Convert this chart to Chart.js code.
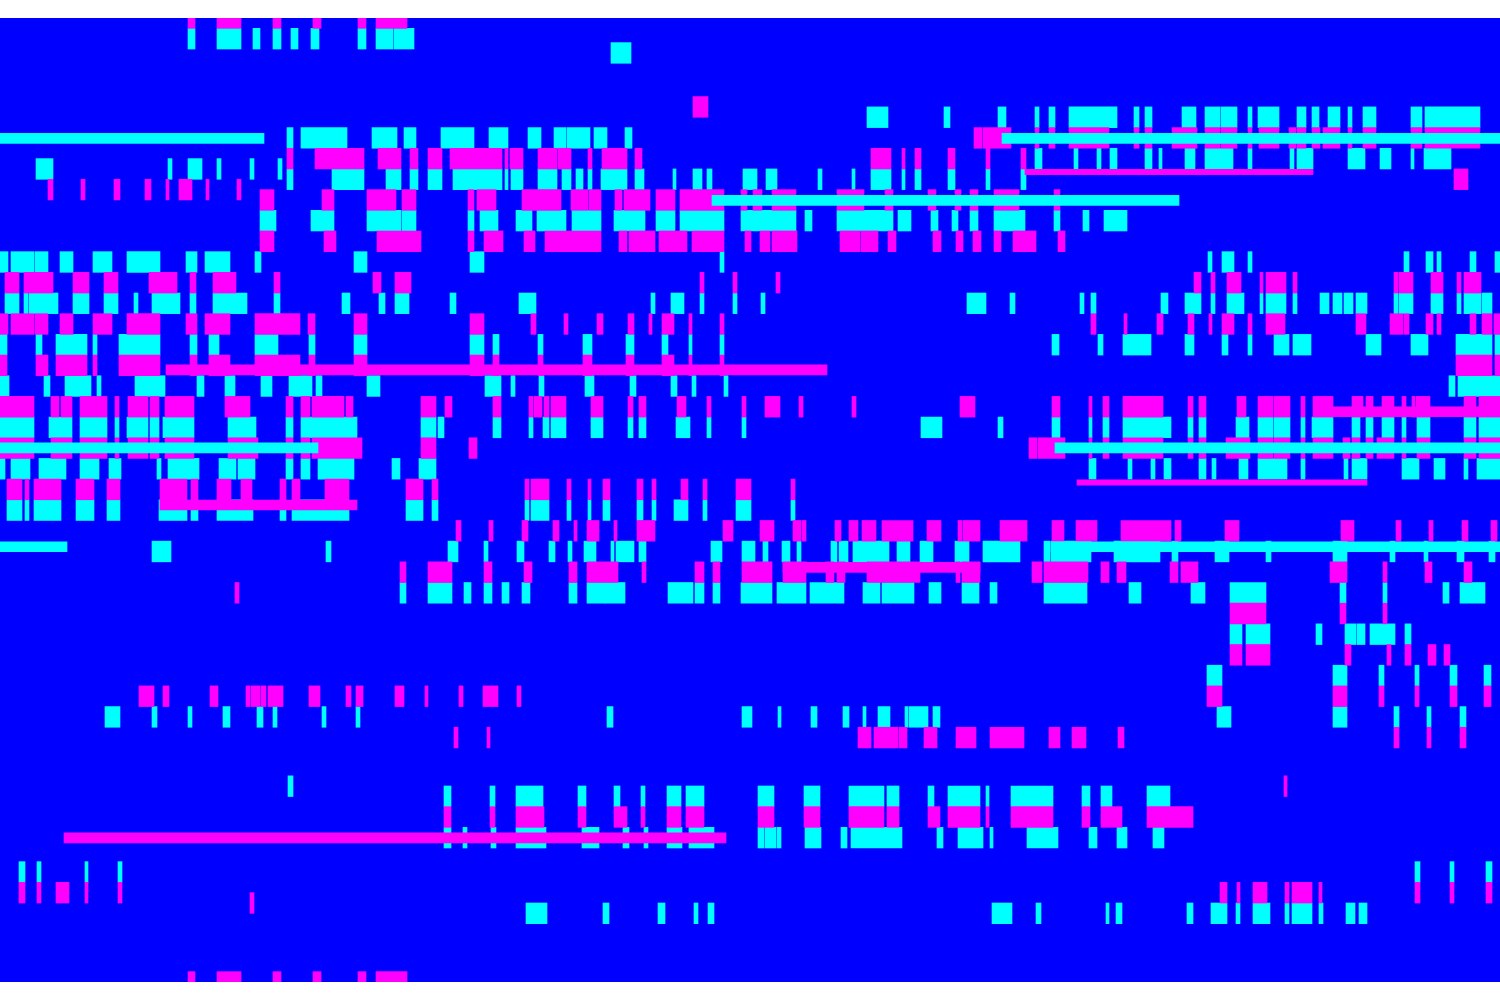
<!DOCTYPE html>
<html><head><meta charset="utf-8">
<style>html,body{margin:0;padding:0;background:#fff}canvas{display:block}</style>
<script src="https://cdn.jsdelivr.net/npm/chart.js@4/dist/chart.umd.min.js"></script>
</head><body><canvas id="c" width="1500" height="1000"></canvas>
<script>
// each list: row position, then start,end pairs along the x axis
const cyanCells = [
[1,188,195,217,241,253,260,273,281,291,298,311,319,358,366,376,393,394,414],
[1.69,611,631],
[4.8,867,888,944,950,998,1006,1035,1039,1049,1055,1069,1117,1134,1139,1145,1152,1182,1196,1205,1220,1221,1237,1248,1252,1258,1279,1297,1306,1312,1319,1328,1340,1348,1352,1363,1376,1411,1422,1425,1480],
[5.8,287,293,301,347,372,397,404,416,441,474,489,508,528,541,554,566,567,590,594,607,625,632],
[6.8,1035,1042,1074,1078,1097,1101,1110,1117,1145,1152,1159,1162,1185,1195,1205,1233,1248,1252,1290,1294,1297,1313,1348,1365,1380,1391,1411,1414,1424,1451],
[7.3,36,53,168,172,188,202,217,221,250,254,278,282],
[7.8,287,293,332,364,386,401,410,418,428,442,453,502,505,508,511,523,538,557,562,571,576,583,588,592,601,627,635,644,673,676,693,702,707,712,743,757,766,777,818,822,852,855,871,891,902,905,915,921,948,955,986,990,1021,1026],
[9.8,260,276,311,334,367,401,402,416,468,474,480,498,516,532,537,566,572,601,614,645,656,675,680,724,741,796,805,812,837,893,898,911,931,938,952,958,970,978,994,1025,1054,1060,1083,1089,1104,1127],
[11.8,0,8,11,34,35,48,60,73,93,112,127,160,186,197,205,230,255,261,354,367,470,484,720,724,1208,1212,1222,1234,1248,1252,1404,1409,1426,1433,1437,1441,1470,1476,1495,1500],
[13.8,5,19,24,28,29,58,73,89,104,118,134,138,152,180,190,196,213,247,274,280,342,350,379,385,395,409,450,456,519,536,651,655,671,684,700,704,733,737,761,765,967,986,1010,1015,1080,1084,1091,1096,1161,1168,1185,1201,1211,1215,1227,1244,1260,1263,1266,1286,1293,1297,1320,1329,1333,1342,1344,1353,1356,1367,1394,1398,1399,1413,1431,1439,1439,1443,1457,1461,1464,1481,1482,1492],
[15.8,0,7,36,42,56,87,93,97,119,160,190,197,209,219,255,278,309,315,354,367,470,484,493,499,538,543,583,592,626,634,662,668,689,692,720,724,1052,1059,1098,1103,1123,1151,1185,1194,1222,1228,1248,1252,1274,1289,1293,1311,1366,1381,1411,1428,1456,1492,1495,1500],
[17.8,0,9,44,50,65,91,97,101,135,165,197,204,225,235,261,272,289,312,316,322,367,380,485,501,511,515,539,544,585,594,630,636,671,677,692,696,724,728,1449,1455,1458,1500],
[19.8,0,34,49,72,80,107,115,119,127,148,150,159,163,194,228,256,286,293,301,357,421,436,438,444,493,501,529,533,543,549,551,566,591,603,628,633,639,646,676,690,707,711,742,746,921,942,998,1003,1052,1060,1089,1092,1103,1109,1123,1171,1188,1193,1199,1206,1236,1249,1258,1273,1274,1290,1301,1305,1312,1333,1352,1360,1366,1373,1382,1394,1402,1406,1417,1430,1464,1476,1479,1500],
[21.8,0,5,11,30,39,66,80,99,109,121,157,161,168,199,219,236,238,255,286,293,301,310,318,354,392,400,419,436,1089,1096,1128,1132,1151,1155,1164,1171,1199,1206,1212,1216,1239,1248,1258,1287,1301,1305,1344,1348,1352,1367,1402,1419,1434,1445,1464,1468,1477,1500],
[23.8,7,22,25,29,34,61,76,94,107,120,159,187,191,198,217,253,280,286,292,349,406,423,432,438,525,529,531,549,567,571,588,591,603,610,637,643,652,656,674,688,703,707,736,751,791,795],
[25.8,152,171,326,331,448,458,484,488,517,524,549,555,568,572,584,596,611,614,616,634,639,646,711,722,742,755,763,768,782,790,797,801,831,837,839,848,853,889,897,910,920,933,955,969,983,1020,1044,1050,1051,1091,1114,1160,1172,1178,1215,1229,1266,1271,1333,1347,1390,1395,1424,1428,1457,1464,1489,1495],
[27.8,400,406,428,452,464,471,484,492,502,509,522,530,569,577,587,605,605,625,668,693,695,704,713,720,741,772,777,806,810,844,863,880,882,914,929,941,962,979,990,997,1044,1087,1129,1141,1191,1205,1230,1266,1340,1346,1383,1387,1443,1449,1460,1485],
[29.8,1230,1242,1246,1270,1316,1322,1345,1356,1357,1365,1370,1395,1405,1411],
[31.8,1207,1222,1333,1347,1379,1384,1415,1419,1450,1457,1484,1491],
[33.8,105,120,152,157,188,192,223,230,257,263,273,277,322,326,356,360,607,613,742,752,778,781,811,817,843,849,863,866,878,890,905,908,909,928,933,940,1217,1231,1333,1347,1394,1399,1427,1431,1460,1466],
[37.15,288,293],
[37.64,444,451,490,495,516,543,578,586,614,620,641,645,667,681,686,704,758,774,804,820,849,884,887,899,928,934,948,980,986,989,1011,1053,1082,1090,1101,1112,1147,1170],
[39.64,444,451,463,467,491,496,516,546,582,599,623,629,644,648,667,682,689,714,758,764,765,776,777,781,805,821,841,847,851,902,937,943,958,983,990,993,1027,1058,1089,1097,1117,1127,1153,1164],
[41.3,19,25,37,41,85,88,118,122,1415,1420,1450,1454,1486,1492],
[43.3,526,547,603,609,658,665,694,698,708,714,992,1012,1036,1041,1106,1109,1116,1122,1187,1193,1211,1227,1236,1240,1253,1270,1285,1289,1292,1312,1319,1323,1346,1355,1359,1367]
];
const magentaCells = [
[0,188,195,217,241,273,281,313,321,358,366,376,407],
[4.3,693,708],
[5.8,974,982,983,1011,1035,1039,1049,1055,1069,1109,1134,1139,1145,1152,1172,1197,1205,1220,1221,1237,1248,1252,1259,1279,1289,1296,1297,1306,1312,1320,1323,1340,1348,1352,1363,1376,1411,1422,1425,1480],
[6.8,287,293,315,364,378,401,410,418,428,442,450,502,505,508,510,523,538,557,558,571,588,592,602,627,635,642,871,891,902,905,915,921,948,955,986,990,1021,1026],
[7.8,1454,1468],
[8.3,48,53,81,85,114,120,145,151,166,169,179,192,206,209,237,241],
[8.8,260,274,322,334,367,396,402,416,468,474,477,496,522,561,571,588,589,601,615,622,624,650,656,675,680,724,741,747,753,762,772,796,837,864,885,893,928,936,955,961,970,978,994,1019,1054,1060],
[10.8,260,274,324,336,377,421,468,474,484,503,524,535,545,601,619,627,629,655,659,687,692,724,745,751,760,770,772,797,840,860,861,878,888,896,933,941,956,963,973,981,994,1001,1013,1036,1058,1065],
[12.8,5,19,24,29,29,53,73,89,104,118,149,177,190,196,213,236,274,280,373,381,395,411,700,704,733,737,776,780,1194,1201,1211,1215,1227,1241,1260,1263,1266,1286,1293,1297,1394,1398,1399,1413,1431,1439,1439,1443,1457,1461,1464,1481],
[14.8,0,8,11,34,35,48,60,73,93,112,127,160,186,197,205,230,255,300,308,315,354,367,470,484,531,536,564,568,597,603,628,634,649,652,662,674,689,692,720,724,1091,1096,1124,1127,1157,1163,1188,1194,1209,1212,1222,1234,1248,1252,1266,1285,1356,1366,1390,1403,1404,1409,1426,1433,1437,1441,1470,1476,1482,1492,1494,1500],
[16.8,0,7,36,48,56,87,93,97,119,160,190,197,209,230,255,300,309,315,354,367,470,484,493,499,538,543,583,592,626,634,662,674,689,692,720,724,1456,1492,1495,1500],
[18.8,0,34,51,59,61,72,80,107,115,119,128,148,150,159,165,194,225,250,286,293,301,310,312,344,346,353,421,436,445,452,493,501,529,533,534,542,544,549,551,566,591,603,628,633,639,646,677,686,707,711,742,746,765,780,799,803,852,856,960,975,1052,1060,1089,1092,1103,1109,1123,1163,1188,1193,1199,1206,1237,1246,1258,1273,1274,1290,1301,1305,1313,1333,1352,1363,1366,1373,1382,1394,1402,1406,1412,1415,1416,1430,1464,1476,1479,1500],
[20.8,0,34,51,72,80,107,115,119,128,148,150,159,165,194,228,258,286,293,301,310,312,362,421,436,469,477,1029,1037,1038,1065,1089,1092,1103,1109,1123,1163,1188,1193,1199,1206,1226,1250,1258,1273,1274,1290,1301,1305,1313,1333,1343,1350,1352,1360,1366,1373,1377,1394,1402,1406,1417,1430,1464,1476,1479,1500],
[22.8,7,22,25,29,34,61,76,94,107,120,160,187,191,198,217,231,241,252,280,286,292,300,325,349,406,423,432,438,525,529,531,549,567,571,588,591,603,610,637,643,652,656,681,688,703,707,736,751,791,795],
[24.8,456,461,489,493,522,528,553,559,574,577,587,599,614,617,637,655,723,733,760,774,793,801,802,806,835,841,849,858,862,876,882,913,927,941,958,962,963,980,1000,1027,1052,1064,1076,1097,1121,1171,1175,1181,1225,1239,1341,1354,1396,1401,1429,1433,1462,1468,1491,1497],
[26.8,400,406,428,452,484,492,524,532,569,577,587,618,642,646,695,704,713,720,742,772,783,806,826,834,837,845,867,920,956,960,962,980,1032,1042,1044,1088,1101,1109,1117,1126,1170,1178,1181,1198,1330,1347,1383,1387,1425,1432,1464,1472],
[27.8,235,239],
[28.8,1230,1266,1340,1346,1383,1387],
[30.8,1230,1242,1246,1270,1345,1351,1387,1391,1405,1411,1428,1436,1444,1450],
[32.8,139,154,163,169,210,218,246,250,251,260,261,266,268,283,309,320,346,351,356,363,395,404,425,428,459,463,483,498,517,521,1207,1222,1333,1347,1379,1384,1415,1419,1450,1457,1484,1491],
[34.8,454,458,487,490,858,871,874,898,899,907,924,937,956,976,990,1024,1049,1060,1072,1086,1118,1124,1394,1399,1427,1431,1460,1466],
[37.15,1284,1287],
[38.64,444,451,490,495,516,544,578,586,614,627,641,645,667,681,686,704,758,774,804,820,849,884,887,899,928,940,948,980,986,989,1011,1053,1082,1090,1101,1122,1147,1193],
[42.3,19,25,37,41,56,69,85,88,118,122,1220,1227,1237,1240,1253,1267,1285,1289,1292,1312,1319,1322,1415,1420,1450,1454,1486,1492],
[42.8,250,254],
[46.62,188,195,217,241,273,281,313,321,358,366,376,407]
];
const cyanBands = [[5.82,0,264,1002,1500],[8.82,712,1179],[20.79,0,318,1055,1500],[25.57,0,67,1051,1500]];
const magentaBands = [[17.02,166,827],[19.04,1333,1500],[23.55,160,357],[26.57,783,980],[39.65,64,726]];
const magentaSlivers = [[7.45,1025,1313],[22.46,1077,1367]];

const ROWS = 46.62, CYAN = '#00ffff', MAGENTA = '#ff00ff', BLUE = '#0000ff';
function toBars(rows){
  const out = [];
  for (const row of rows) for (let i = 1; i < row.length; i += 2)
    if (row[i+1] > row[i]) out.push({x:[row[i], row[i+1]], y:row[0]});
  return out;
}
const set = (label, rows, color, thick, order) => ({label, data:toBars(rows), backgroundColor:color, borderWidth:0, barThickness:thick, order});
new Chart(document.getElementById('c'), {
  type:'bar',
  data:{datasets:[
    set('cyan cells', cyanCells, CYAN, 20.68, 5),
    set('magenta cells', magentaCells, MAGENTA, 20.68, 4),
    set('cyan bands', cyanBands, CYAN, 10, 2),
    set('magenta bands', magentaBands, MAGENTA, 10, 1),
    set('magenta slivers', magentaSlivers, MAGENTA, 5.3, 3)
  ]},
  options:{
    indexAxis:'y', responsive:false, animation:false, devicePixelRatio:1,
    layout:{padding:{top:18,bottom:18,left:0,right:0}},
    datasets:{bar:{grouped:false}},
    plugins:{legend:{display:false},tooltip:{enabled:false}},
    scales:{
      x:{type:'linear',min:0,max:1500,display:false,grid:{display:false}},
      y:{type:'linear',offset:false,min:0,max:ROWS,reverse:true,display:false,grid:{display:false}}
    }
  },
  plugins:[{id:'plotBg',beforeDatasetsDraw(ch){const a=ch.chartArea,g=ch.ctx;g.save();g.fillStyle=BLUE;g.fillRect(a.left,a.top,a.right-a.left,a.bottom-a.top);g.restore();}}]
});
</script></body></html>
